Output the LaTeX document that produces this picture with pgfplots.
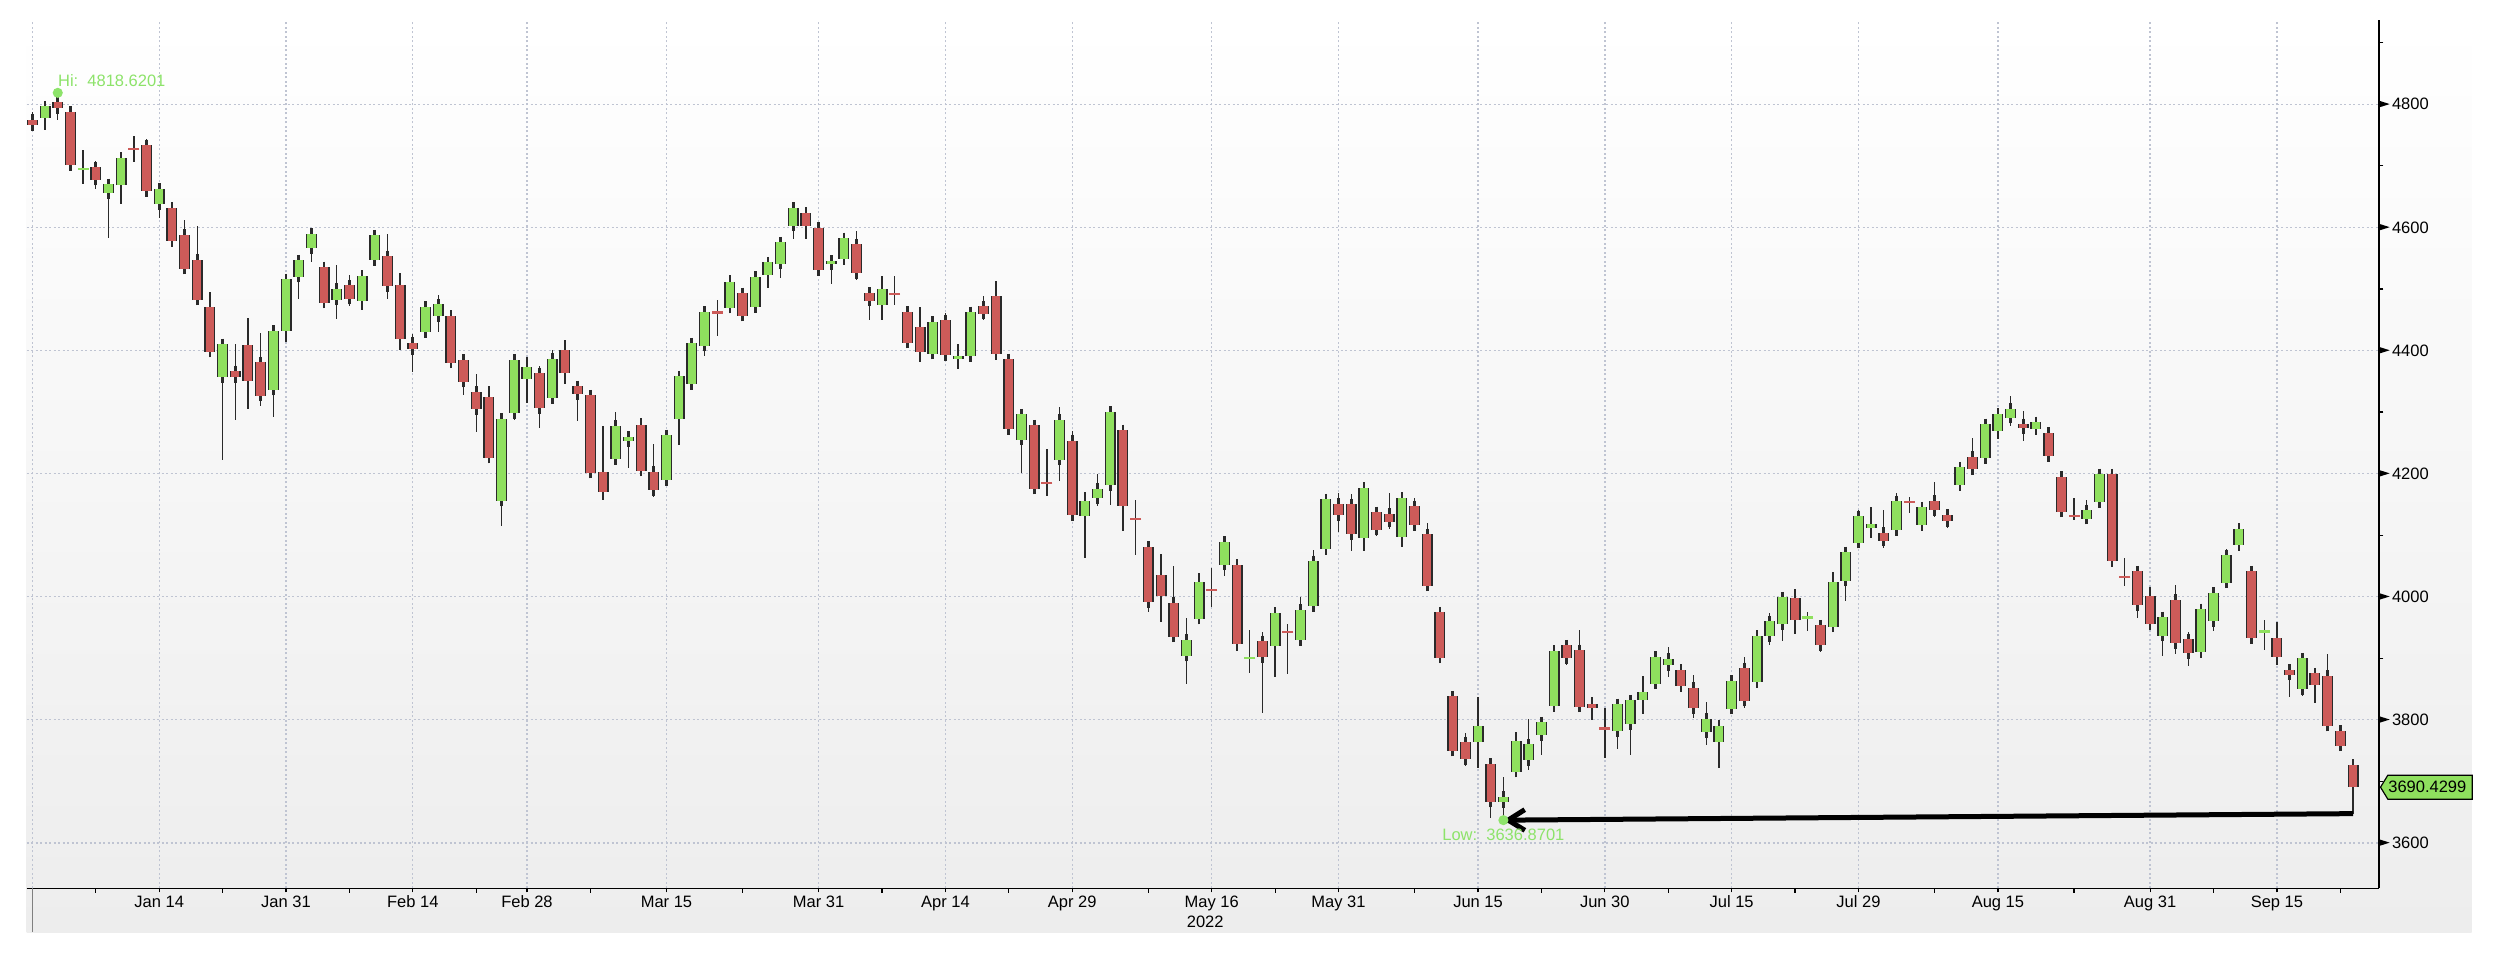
\documentclass[border=0pt]{standalone}
\usepackage{fontspec}
\setmainfont{Liberation Sans}
\usepackage{pgfplots}
\pgfplotsset{compat=1.18}
\usepackage{pgfplotstable}
\usetikzlibrary{arrows.meta}

\definecolor{upc}{HTML}{8FE05E}
\definecolor{dnc}{HTML}{CD5B59}
\definecolor{edgec}{HTML}{2A2A2A}
\definecolor{gridc}{HTML}{BFC4D2}
\definecolor{hilo}{HTML}{8DE36A}
\definecolor{panelb}{HTML}{EDEDED}

% S&P 500 daily candles, index 0 = 31 Dec 2021 ... 183 = 23 Sep 2022
% rising candles (close > open)
\pgfplotstableread{
i o h l c
1 4778.14 4796.64 4758.17 4796.56
6 4655.34 4673.02 4582.24 4670.29
7 4669.14 4714.13 4638.27 4713.07
10 4637.99 4665.13 4614.75 4662.85
15 4356.32 4417.35 4222.62 4410.13
19 4336.19 4432.72 4292.46 4431.85
20 4431.79 4516.89 4414.02 4515.55
21 4519.57 4550.49 4483.53 4546.54
22 4566.39 4595.31 4544.32 4589.38
24 4482.79 4539.66 4451.50 4500.53
26 4480.02 4531.32 4465.40 4521.54
27 4547.00 4590.03 4547.00 4587.18
31 4429.28 4472.77 4429.28 4471.07
32 4455.75 4489.55 4429.68 4475.01
37 4155.77 4294.73 4114.65 4288.70
38 4298.38 4385.34 4286.83 4384.65
39 4354.17 4388.84 4315.12 4373.94
41 4322.56 4401.48 4322.56 4386.54
46 4223.10 4299.40 4223.10 4277.88
47 4252.55 4268.28 4209.80 4259.52
50 4188.82 4271.05 4187.90 4262.45
51 4288.14 4357.86 4246.69 4357.86
52 4345.11 4412.67 4335.65 4411.67
53 4407.34 4465.40 4390.57 4463.12
55 4469.10 4522.00 4469.10 4511.61
57 4469.98 4520.58 4465.17 4520.16
58 4522.91 4546.03 4501.07 4543.06
59 4541.09 4575.65 4517.69 4575.52
60 4602.86 4637.30 4581.34 4631.60
63 4540.32 4548.70 4507.57 4545.86
64 4547.97 4583.50 4539.21 4582.64
67 4474.65 4521.16 4450.30 4500.21
71 4394.30 4453.92 4392.70 4446.59
73 4385.63 4410.31 4370.30 4391.69
74 4390.63 4471.03 4390.63 4462.21
78 4255.34 4299.02 4200.82 4296.12
81 4222.58 4308.45 4188.63 4287.50
83 4130.61 4169.81 4062.51 4155.38
84 4159.78 4200.10 4147.08 4175.48
85 4181.18 4307.66 4148.91 4300.17
91 3903.95 3964.80 3858.87 3930.08
92 3963.90 4038.88 3963.90 4023.89
94 4052.00 4090.72 4033.93 4088.85
98 3919.42 3975.48 3868.91 3973.75
100 3929.59 3999.33 3925.03 3978.73
101 3984.60 4075.14 3984.60 4057.84
102 4077.43 4158.49 4077.43 4158.24
105 4095.41 4177.51 4074.37 4176.82
108 4096.47 4164.86 4080.19 4160.68
114 3764.05 3837.56 3722.30 3789.99
116 3665.90 3707.71 3636.87 3674.84
117 3715.31 3779.65 3715.31 3764.79
118 3733.89 3801.79 3717.69 3759.89
119 3774.71 3802.58 3743.52 3795.73
120 3821.75 3913.65 3821.75 3911.74
125 3781.00 3829.82 3752.10 3825.33
126 3792.61 3832.19 3742.06 3831.39
127 3831.98 3870.91 3809.37 3845.08
128 3858.85 3910.63 3858.85 3902.62
129 3888.26 3918.50 3869.34 3899.38
132 3779.67 3829.44 3759.07 3801.78
133 3763.99 3796.41 3721.56 3790.38
134 3818.00 3863.62 3817.18 3863.16
136 3860.73 3939.81 3860.73 3936.69
137 3935.32 3974.13 3922.03 3959.90
138 3955.47 3999.29 3927.64 3998.95
142 3951.43 4039.56 3951.43 4023.61
143 4026.13 4078.95 3992.97 4072.43
144 4087.33 4140.15 4079.22 4130.29
145 4112.38 4144.95 4096.02 4118.63
147 4107.96 4167.66 4107.96 4155.17
149 4115.87 4151.58 4107.31 4145.19
152 4181.02 4211.03 4177.26 4210.24
154 4225.02 4280.47 4219.78 4280.15
155 4269.37 4301.79 4256.90 4297.14
156 4290.46 4325.28 4277.77 4305.20
158 4273.13 4292.53 4261.98 4283.74
162 4126.55 4156.56 4119.97 4140.77
163 4153.26 4200.54 4147.59 4199.12
168 3936.73 3970.23 3903.65 3966.85
171 3909.43 3987.89 3906.03 3979.87
172 3959.94 4010.50 3944.81 4006.18
173 4022.94 4076.81 4022.94 4067.36
174 4083.67 4119.28 4083.67 4110.41
179 3849.91 3900.45 3838.50 3899.89
}\up
% falling candles (close < open)
\pgfplotstableread{
i o h l c
0 4775.21 4786.83 4765.75 4766.18
2 4804.51 4818.62 4774.27 4793.54
3 4787.99 4797.70 4699.44 4700.58
5 4697.66 4707.95 4662.74 4677.03
9 4733.56 4744.13 4650.29 4659.03
11 4632.24 4632.24 4568.70 4577.11
12 4588.03 4611.55 4530.20 4532.76
13 4547.35 4602.11 4477.95 4482.73
14 4471.38 4494.52 4395.34 4397.94
16 4366.64 4411.01 4287.11 4356.45
17 4408.43 4453.23 4304.80 4349.93
18 4380.58 4428.74 4309.50 4326.51
23 4535.41 4542.88 4470.39 4477.44
25 4505.75 4521.86 4471.47 4483.87
28 4553.24 4588.92 4484.31 4504.08
29 4506.27 4526.33 4401.41 4418.64
30 4412.61 4426.22 4364.84 4401.67
33 4456.06 4456.06 4373.81 4380.26
34 4384.57 4394.60 4327.22 4348.87
35 4332.74 4362.12 4267.11 4304.76
36 4324.93 4341.51 4221.51 4225.50
40 4363.14 4375.50 4273.31 4306.26
42 4401.31 4416.78 4345.56 4363.49
43 4342.12 4342.12 4284.98 4328.87
44 4327.01 4327.01 4199.85 4201.09
45 4202.66 4276.94 4157.87 4170.70
48 4279.50 4291.01 4200.49 4204.31
49 4202.75 4247.57 4161.72 4173.11
56 4493.10 4501.07 4455.81 4456.24
61 4624.20 4627.77 4581.32 4602.45
62 4599.02 4603.07 4530.41 4530.41
65 4572.45 4593.45 4514.17 4525.12
66 4494.17 4503.94 4450.04 4481.15
69 4462.64 4464.35 4408.38 4412.53
70 4437.59 4471.00 4381.34 4397.45
72 4449.12 4460.46 4390.77 4392.59
75 4472.26 4488.29 4448.76 4459.45
76 4489.17 4512.94 4384.47 4393.66
77 4385.83 4385.83 4267.62 4271.78
79 4278.14 4278.14 4175.04 4175.20
82 4253.75 4269.68 4124.28 4131.93
86 4270.43 4270.43 4106.01 4146.87
88 4081.27 4081.27 3975.48 3991.24
89 4035.18 4068.82 3958.17 4001.05
90 3990.08 4049.09 3928.82 3935.18
95 4051.98 4051.98 3911.91 3923.68
97 3927.76 3943.42 3810.32 3901.36
103 4151.09 4168.34 4104.88 4132.15
104 4149.78 4166.54 4073.85 4101.23
106 4137.57 4142.67 4098.67 4108.54
107 4134.72 4168.78 4109.18 4121.43
109 4147.12 4160.14 4107.20 4115.77
110 4101.65 4119.10 4017.17 4017.82
111 3974.39 3974.39 3900.16 3900.86
112 3838.15 3838.15 3743.52 3749.63
113 3763.52 3778.18 3724.55 3735.48
115 3728.18 3728.18 3639.77 3666.77
121 3920.76 3927.72 3889.66 3900.11
122 3913.00 3945.86 3820.14 3821.55
123 3825.09 3836.50 3799.02 3818.83
130 3880.94 3880.94 3847.22 3854.43
131 3851.95 3873.41 3802.36 3818.80
135 3883.79 3902.44 3818.63 3830.85
139 3998.43 4012.44 3938.85 3961.63
141 3953.22 3953.22 3910.74 3921.05
146 4104.21 4140.47 4079.81 4091.19
150 4155.93 4186.62 4128.97 4140.06
151 4133.11 4137.30 4112.09 4122.47
153 4227.40 4257.91 4201.41 4207.27
157 4280.40 4302.18 4253.08 4274.04
159 4266.31 4266.31 4218.70 4228.48
160 4195.08 4195.08 4129.86 4137.99
164 4198.74 4203.04 4057.66 4057.66
166 4041.25 4044.98 3965.21 3986.16
167 4000.67 4015.37 3954.53 3955.00
169 3994.66 4018.43 3906.21 3924.26
170 3930.89 3942.55 3886.75 3908.19
175 4041.13 4041.13 3924.90 3932.69
177 3932.41 3959.14 3888.28 3901.35
178 3880.95 3880.95 3837.08 3873.33
180 3875.23 3876.01 3827.54 3855.93
181 3871.40 3907.07 3789.49 3789.93
182 3782.36 3790.41 3749.45 3757.99
183 3727.14 3727.14 3647.47 3690.43
}\dn
% near-doji candles, rising
\pgfplotstableread{
i o h l c
4 4693.39 4725.01 4671.26 4696.05
96 3899.00 3945.96 3876.58 3900.79
140 3965.72 3975.30 3943.46 3966.84
176 3940.73 3961.94 3912.78 3946.01
}\upj
% near-doji candles, falling
\pgfplotstableread{
i o h l c
8 4728.59 4748.83 4706.71 4726.35
54 4462.40 4481.75 4424.30 4461.18
68 4494.15 4520.41 4474.60 4488.28
80 4186.52 4240.71 4162.90 4183.96
87 4128.17 4157.69 4067.91 4123.34
93 4013.02 4046.46 3983.99 4008.01
99 3942.94 3955.68 3875.13 3941.48
124 3785.99 3818.99 3738.67 3785.38
148 4154.85 4161.29 4135.42 4151.94
161 4133.09 4159.77 4124.03 4128.73
165 4034.58 4062.99 4017.42 4030.61
}\dnj

\pgfplotsset{
  wick/.style={forget plot, draw=none, mark=none,
    error bars/.cd, y dir=both, y explicit, error mark=none,
    error bar style={draw=edgec, line width=0.4pt}},
  bodyedge/.style={forget plot, draw=none, mark=none,
    error bars/.cd, y dir=both, y explicit, error mark=-,
    error mark options={draw=edgec, line width=0.8pt, mark size=1.65pt},
    error bar style={draw=edgec, line width=3.3pt}},
  bodyfill/.style={forget plot, draw=none, mark=none,
    error bars/.cd, y dir=both, y explicit, error mark=none,
    error bar style={draw=#1, line width=2.5pt}},
  doji/.style={forget plot, only marks, mark=-, mark size=1.65pt,
    mark options={draw=#1, line width=0.65pt}},
}

\newcommand\lblfont{\fontsize{4.95pt}{6pt}\selectfont}
\newcommand\ytri{\begin{pgfpicture}\pgfsetbaseline{0pt}%
  \pgfpathmoveto{\pgfqpoint{0pt}{0.82pt}}\pgfpathlineto{\pgfqpoint{0pt}{2.72pt}}%
  \pgfpathlineto{\pgfqpoint{3pt}{1.77pt}}\pgfpathclose
  \pgfsetfillcolor{black}\pgfusepath{fill}\end{pgfpicture}}

\begin{document}
\begin{tikzpicture}
\useasboundingbox (0pt,0pt) rectangle (750pt,293.4pt);
\shade[top color=white, bottom color=panelb] (8.01pt,13.71pt) rectangle (741.51pt,287.4pt);
\begin{axis}[
  at={(8.01pt,26.91pt)}, anchor=south west,
  scale only axis, width=705.69pt, height=260.49pt,
  xmin=-0.449, xmax=185.05, ymin=3526.2, ymax=4937,
  clip=false,
  axis x line*=bottom, axis y line*=right,
  axis line style={black, line width=0.45pt},
  tick align=outside,
  major tick length=1.2pt, minor tick length=1.3pt,
  every tick/.style={black, line width=0.35pt},
  xtick={10,20,30,39,50,62,72,82,93,103,114,124,134,144,155,167,177},
  xticklabels={Jan 14,Jan 31,Feb 14,Feb 28,Mar 15,Mar 31,Apr 14,Apr 29,May 16,May 31,Jun 15,Jun 30,Jul 15,Jul 29,Aug 15,Aug 31,Sep 15},
  minor xtick={5,15,25,35,44,56,67,77,88,98,109,119,129,139,150,161,172,182},
  extra x ticks={0}, extra x tick labels={},
  extra x tick style={major tick length=13pt, every tick/.style={gray, line width=0.3pt}},
  ytick={3600,3800,...,4800},
  minor ytick={3700,3900,...,4900},
  major y tick style={draw=none},
  grid=major,
  major grid style={gridc, line width=0.4pt, dash pattern=on 0.6pt off 0.75pt},
  /pgf/number format/1000 sep={},
  /pgf/number format/assume math mode=true,
  tick label style={font=\lblfont},
  xticklabel style={anchor=base, inner sep=0pt, yshift=-4.65pt},
  yticklabel={\ytri\hspace{0.7pt}\pgfmathprintnumber{\tick}},
  yticklabel style={anchor=west, inner sep=0pt, xshift=-1.2pt},
  xlabel={2022},
  xlabel style={at={(axis description cs:0.5,0)}, anchor=base, inner sep=0pt, yshift=-11.85pt, xshift=0.7pt, font=\lblfont},
]
% wicks: low to high
\addplot[wick] table[x=i, y expr={(\thisrow{h}+\thisrow{l})/2}, y error expr={(\thisrow{h}-\thisrow{l})/2}] {\up};
\addplot[wick] table[x=i, y expr={(\thisrow{h}+\thisrow{l})/2}, y error expr={(\thisrow{h}-\thisrow{l})/2}] {\dn};
\addplot[wick] table[x=i, y expr={(\thisrow{h}+\thisrow{l})/2}, y error expr={(\thisrow{h}-\thisrow{l})/2}] {\upj};
\addplot[wick] table[x=i, y expr={(\thisrow{h}+\thisrow{l})/2}, y error expr={(\thisrow{h}-\thisrow{l})/2}] {\dnj};
% bodies: open to close
\addplot[bodyedge] table[x=i, y expr={(\thisrow{o}+\thisrow{c})/2}, y error expr={(\thisrow{c}-\thisrow{o})/2}] {\up};
\addplot[bodyedge] table[x=i, y expr={(\thisrow{o}+\thisrow{c})/2}, y error expr={(\thisrow{o}-\thisrow{c})/2}] {\dn};
\addplot[bodyfill=upc] table[x=i, y expr={(\thisrow{o}+\thisrow{c})/2}, y error expr={(\thisrow{c}-\thisrow{o})/2}] {\up};
\addplot[bodyfill=dnc] table[x=i, y expr={(\thisrow{o}+\thisrow{c})/2}, y error expr={(\thisrow{o}-\thisrow{c})/2}] {\dn};
\addplot[doji=upc] table[x=i, y expr={(\thisrow{o}+\thisrow{c})/2}] {\upj};
\addplot[doji=dnc] table[x=i, y expr={(\thisrow{o}+\thisrow{c})/2}] {\dnj};
% high / low markers and arrow from the last low to the period low
\addplot[forget plot, only marks, mark=*, mark size=1.3pt, hilo] coordinates {(2,4818.62) (116,3636.87)};
\addplot[forget plot, black, line width=1.5pt, -{Straight Barb[length=5pt,width=6.2pt]}] coordinates {(183,3647.47) (116,3636.87)};
\node[hilo, anchor=west, inner sep=0pt, yshift=3.7pt, xshift=-0.1pt, font=\lblfont] at (axis cs:2,4818.62) {Hi:\ \ 4818.6201};
\node[hilo, anchor=center, inner sep=0pt, yshift=-4.35pt, font=\lblfont] at (axis cs:116,3636.87) {Low:\ \ 3636.8701};
% last price tag
\draw[fill=upc, draw=black, line width=0.35pt] ([xshift=0.45pt]axis cs:185.05,3690.43) -- ++(2.2pt,3.6pt) -- ++(25.3pt,0pt) -- ++(0pt,-7.2pt) -- ++(-25.3pt,0pt) -- cycle;
\node[inner sep=0pt, font=\lblfont] at ([xshift=14.5pt]axis cs:185.05,3690.43) {3690.4299};
\end{axis}
\end{tikzpicture}
\end{document}
